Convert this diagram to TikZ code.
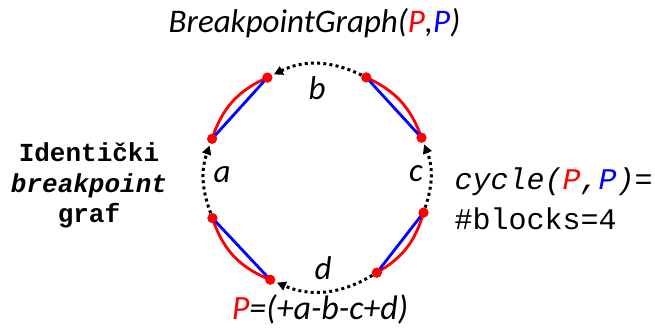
\documentclass[tikz,border=0pt]{standalone}
\usepackage{fontspec}
\setmainfont{Carlito}
\setmonofont{Liberation Mono}
\usetikzlibrary{arrows.meta}
\begin{document}
\begin{tikzpicture}[x=1pt,y=1pt,
  dot/.style={circle,fill=red,inner sep=0pt,minimum size=10pt},
  redarc/.style={red,line width=2.8pt},
  blueline/.style={blue,line width=2.8pt},
  dotarc/.style={black,line width=3pt,dash pattern=on 3pt off 3.2pt,-{Triangle[length=9pt,width=9pt]},shorten >=2pt},
  lbl/.style={font=\fontsize{33}{36}\selectfont\itshape},
  mono/.style={font=\fontsize{26}{30}\selectfont\ttfamily\bfseries,anchor=base},
  monor/.style={font=\fontsize{30}{32}\selectfont\ttfamily,anchor=base west},
]
\useasboundingbox (0,0) rectangle (655,329);
\coordinate (O) at (317,151);
% points on the circle
\node[dot] (lu) at ([shift={(159.5:112)}]O) {};
\node[dot] (tl) at ([shift={(116.3:112)}]O) {};
\node[dot] (tr) at ([shift={(63.9:112)}]O) {};
\node[dot] (ru) at ([shift={(21.1:112)}]O) {};
\node[dot] (rl) at ([shift={(-18:112)}]O) {};
\node[dot] (br) at ([shift={(-57.7:112)}]O) {};
\node[dot] (bl) at ([shift={(-114.7:112)}]O) {};
\node[dot] (ll) at ([shift={(201:112)}]O) {};
% red arcs and blue chords
\draw[redarc] (tl.center) to[bend right=24] (lu.center);
\draw[redarc] (ru.center) to[bend right=23] (tr.center);
\draw[redarc] (br.center) to[bend right=22] (rl.center);
\draw[redarc] (ll.center) to[bend right=25] (bl.center);
\draw[blueline] (tl.center) -- (lu.center);
\draw[blueline] (ru.center) -- (tr.center);
\draw[blueline] (br.center) -- (rl.center);
\draw[blueline] (ll.center) -- (bl.center);
% dots on top
\foreach \n in {lu,tl,tr,ru,rl,br,bl,ll}{\fill[red] (\n.center) circle (5pt);}
% dotted arcs with arrows
\draw[dotarc] (ll) to[bend left=20] (lu);
\draw[dotarc] (tr) to[bend right=26] (tl);
\draw[dotarc] (rl) to[bend right=20] (ru);
\draw[dotarc] (br) to[bend left=27] (bl);
% labels
\node[lbl] (la) at (222,154) {a};
\node[lbl] (lb) at (317,241) {b};
\node[lbl] (lc) at (416,155) {c};
\node[lbl] (ld) at (323,61) {d};
% title
\node[font=\fontsize{33}{36}\selectfont\itshape,anchor=base] (title) at (314.5,296) {BreakpointGraph(\textcolor{red}{P},\textcolor{blue}{P})};
% bottom
\node[font=\fontsize{34}{36}\selectfont\itshape,anchor=base] (perm) at (320,10) {\textcolor{red}{P}=(+a-b-c+d)};
% left text
\node[mono] (l1) at (89,167) {Identički};
\node[mono] (l2) at (89,136) {\itshape breakpoint};
\node[mono] (l3) at (89,106) {graf};
% right text
\node[monor] (r1) at (451,139) {\itshape cycle(\textcolor{red}{P},\textcolor{blue}{P})=};
\node[monor] (r2) at (451,99) {\#blocks=4};
\end{tikzpicture}
\end{document}
